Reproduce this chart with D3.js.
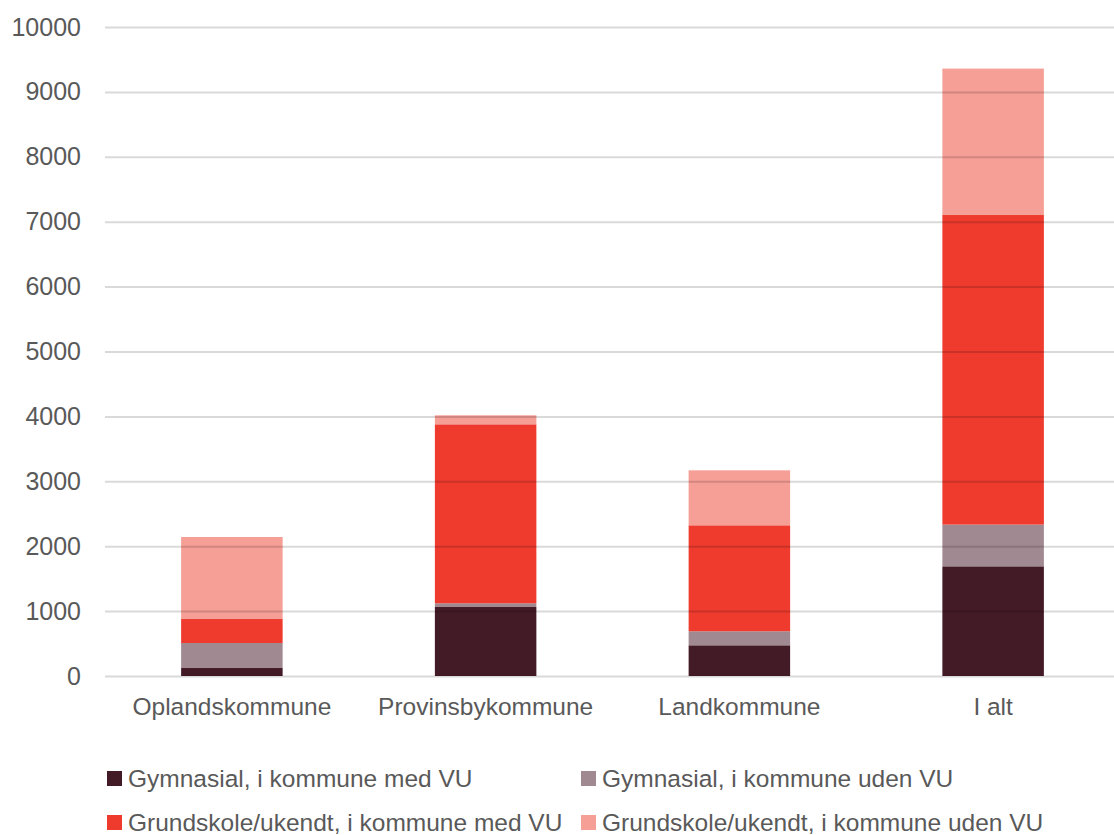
<!DOCTYPE html>
<html lang="da">
<head>
<meta charset="UTF-8">
<title>Stablet søjlediagram</title>
<script src="https://d3js.org/d3.v7.min.js"></script>
<style>
    body { margin: 0; background: #fff; }
    svg text { font-family: "Liberation Sans", Arial, sans-serif; fill: #595959; }
</style>
</head>
<body>
<svg width="1114" height="835"></svg>
<script>
    // data
    const categories = ["Oplandskommune", "Provinsbykommune", "Landkommune", "I alt"];
    const seriesNames = [
        "Gymnasial, i kommune med VU",
        "Gymnasial, i kommune uden VU",
        "Grundskole/ukendt, i kommune med VU",
        "Grundskole/ukendt, i kommune uden VU"
    ];
    const gymMedVU = [123, 1063, 473, 1690];
    const gymUdenVU = [385, 57, 216, 643];
    const grundMedVU = [370, 2758, 1633, 4770];
    const grundUdenVU = [1264, 139, 847, 2256];
    const yTicks = [0, 1000, 2000, 3000, 4000, 5000, 6000, 7000, 8000, 9000, 10000];

    const colors = ["#431b26", "#a08990", "#ee3b2e", "#f69f96"];

    const svg = d3.select("svg");

    const rows = categories.map((c, i) => ({
        cat: c,
        s0: gymMedVU[i], s1: gymUdenVU[i], s2: grundMedVU[i], s3: grundUdenVU[i]
    }));
    const stack = d3.stack().keys(["s0", "s1", "s2", "s3"]);
    const stacked = stack(rows);

    const x = d3.scaleBand()
        .domain(categories)
        .range([105, 1120])
        .paddingInner(0.6)
        .paddingOuter(0.3);

    const y = d3.scaleLinear()
        .domain([0, 10000])
        .range([676, 27]);

    // bars
    svg.append("g")
        .selectAll("g")
        .data(stacked)
        .enter().append("g")
        .attr("fill", (d, i) => colors[i])
        .selectAll("rect")
        .data(d => d)
        .enter().append("rect")
        .attr("x", d => x(d.data.cat))
        .attr("width", x.bandwidth())
        .attr("y", d => y(d[1]))
        .attr("height", d => y(d[0]) - y(d[1]));

    // gridlines on top, semi-transparent
    const yAxis = d3.axisLeft(y)
        .tickValues(yTicks)
        .tickSize(-(1114 - 105))
        .tickPadding(24)
        .tickFormat(d3.format("d"));

    const gy = svg.append("g")
        .attr("transform", "translate(105,0)")
        .call(yAxis);
    gy.select(".domain").remove();
    gy.selectAll(".tick line")
        .attr("stroke", "#000")
        .attr("stroke-opacity", 0.15)
        .attr("stroke-width", 2);
    gy.selectAll(".tick text")
        .style("font-size", "25px")
        .attr("fill", "#595959");

    // x axis labels
    const gx = svg.append("g")
        .attr("transform", "translate(0,676)")
        .call(d3.axisBottom(x).tickSize(0).tickPadding(22));
    gx.select(".domain").remove();
    gx.selectAll(".tick text")
        .style("font-size", "24.5px")
        .attr("fill", "#595959");

    // legend
    const legendPos = [[107, 778], [581, 778], [107, 822], [581, 822]];
    const legend = svg.append("g")
        .selectAll("g")
        .data(seriesNames)
        .enter().append("g")
        .attr("transform", (d, i) => `translate(${legendPos[i][0]},${legendPos[i][1]})`);
    legend.append("rect")
        .attr("x", 0)
        .attr("y", -7)
        .attr("width", 15)
        .attr("height", 15)
        .attr("fill", (d, i) => colors[i]);
    legend.append("text")
        .attr("x", 21)
        .attr("y", 0)
        .attr("dy", "0.35em")
        .style("font-size", "24.5px")
        .text(d => d);
</script>
</body>
</html>
